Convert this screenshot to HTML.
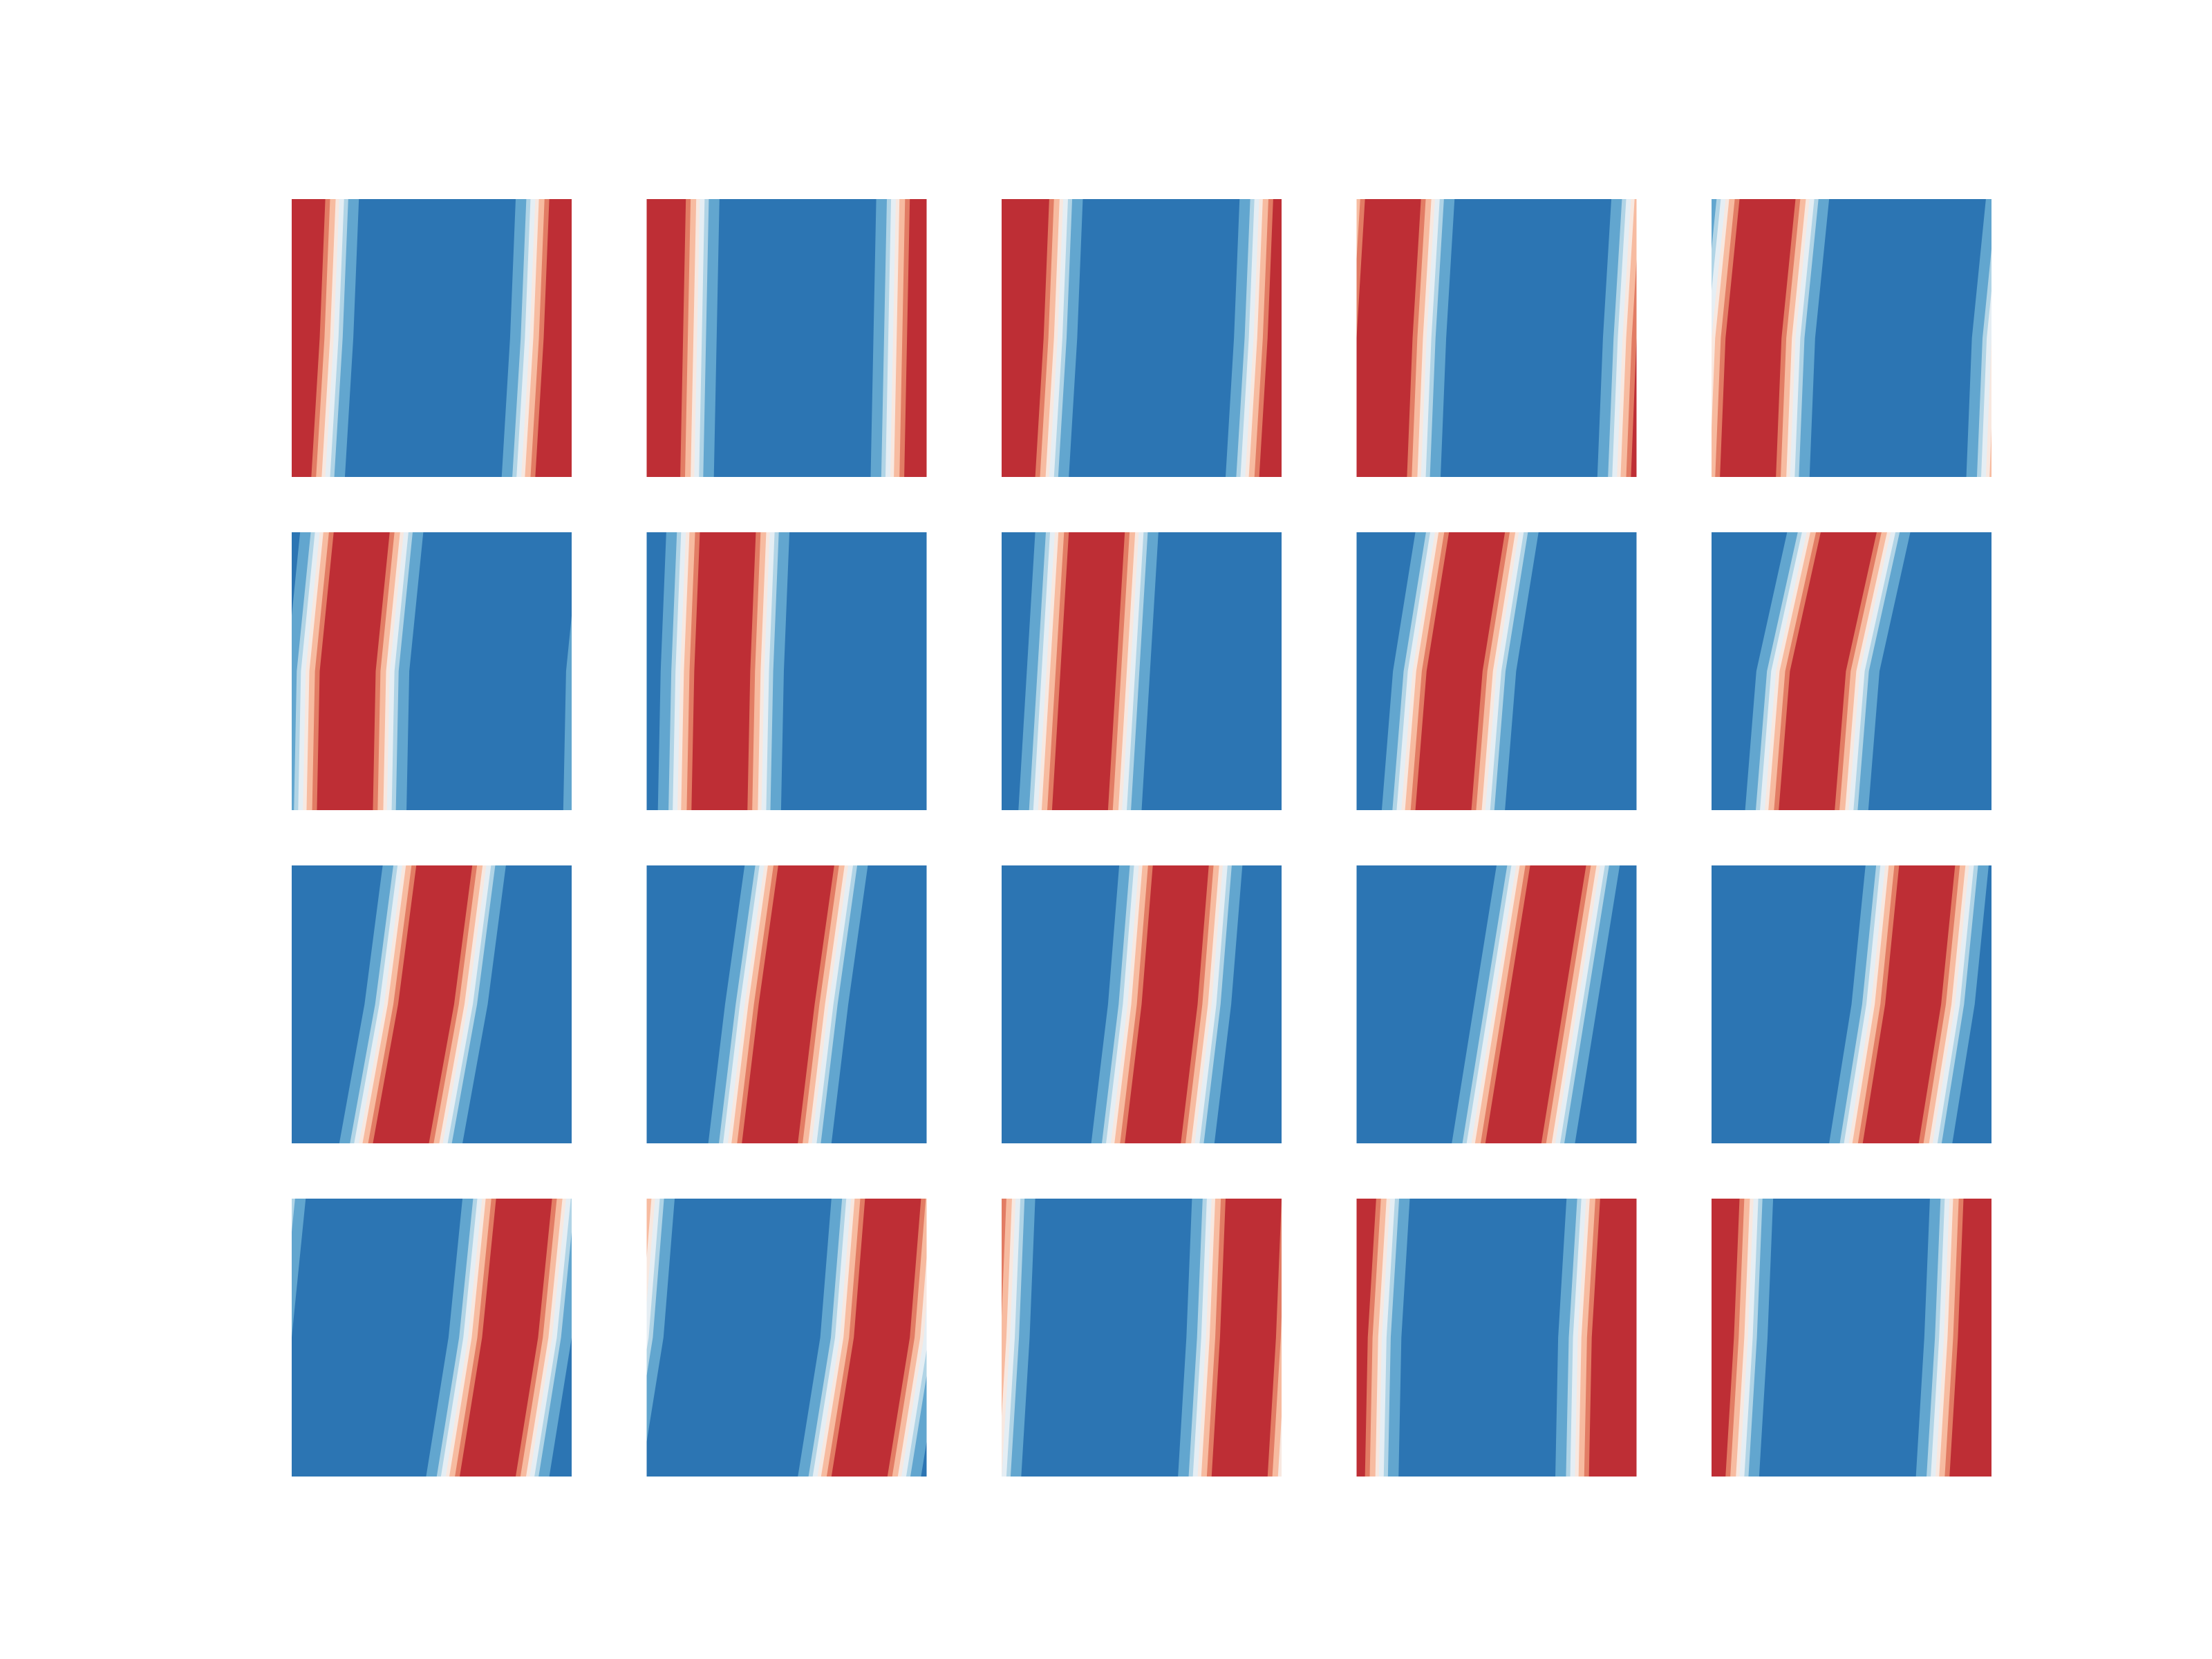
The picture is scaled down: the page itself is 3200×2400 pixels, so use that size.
<!DOCTYPE html>
<html><head><meta charset="utf-8"><title>Traveling wave contour grid</title>
<style>html,body{margin:0;padding:0;background:#fff}svg{display:block}</style></head>
<body>
<svg id="chart" width="3200" height="2400" viewBox="0 0 3200 2400" xmlns="http://www.w3.org/2000/svg">
<rect width="3200" height="2400" fill="#ffffff"/>
<defs id="defs"></defs>
<g id="panels"></g>
</svg>
<script>
// Center of the red band (fraction of panel width) at top, middle, bottom of each panel
const centerTop = [0.02,0.04,0.07,0.13,0.20, 0.25,0.29,0.34,0.43,0.49, 0.545,0.57,0.64,0.72,0.77, 0.83,0.88,0.90,0.97,1.00];
const centerMid = [0.00,0.03,0.05,0.10,0.15, 0.20,0.27,0.31,0.35,0.38, 0.48,0.50,0.60,0.64,0.72, 0.78,0.84,0.88,0.94,0.98];
const centerBot = [-0.03,0.02,0.02,0.08,0.13, 0.19,0.26,0.28,0.31,0.34, 0.39,0.44,0.54,0.56,0.64, 0.70,0.76,0.85,0.93,0.95];
// contour level half-widths (fraction of panel width), outermost first
const levelHalfWidths = [0.22,0.182,0.167,0.15,0.137,0.117,0.1];
const levelColors = ["#62a6cf","#b0d4e6","#e5eef4","#f8e8e0","#f7bba0","#e27c64","#be2e35"];
const baseColor = "#2c75b3";

const NS = "http://www.w3.org/2000/svg";
const defs = document.getElementById('defs');
const root = document.getElementById('panels');
const X0 = 422, Y0 = 288, PW = 405, PH = 402, DX = 513.5, DY = 482;

function el(tag, attrs){const e=document.createElementNS(NS,tag);for(const k in attrs)e.setAttribute(k,attrs[k]);return e;}

centerTop.forEach((ct, i) => {
  const col = i % 5, row = Math.floor(i / 5);
  const px = X0 + col * DX, py = Y0 + row * DY;
  const sx = f => px + f * PW;
  const sy = f => py + f * PH;
  const cp = el('clipPath', {id: 'clip' + i});
  cp.appendChild(el('rect', {x: px, y: py, width: PW, height: PH}));
  defs.appendChild(cp);
  const g = el('g', {'clip-path': 'url(#clip' + i + ')'});
  
  
  const bg = el('rect', {x: px, y: py, width: PW, height: PH, fill: baseColor});
  
  
  g.appendChild(bg);
  const cs = [ct, centerMid[i], centerBot[i]];
  const ys = [0, 0.5, 1];
  levelHalfWidths.forEach((hw, k) => {
    [-1, 0, 1].forEach(shift => {
      const left = cs.map((c, j) => sx(c + shift - hw) + ',' + sy(ys[j]));
      const right = cs.map((c, j) => sx(c + shift + hw) + ',' + sy(ys[j])).reverse();
      const p = el('polygon', {points: left.concat(right).join(' '), fill: levelColors[k]});
      
      
      g.appendChild(p);
    });
  });
  root.appendChild(g);
});
</script>
</body></html>
